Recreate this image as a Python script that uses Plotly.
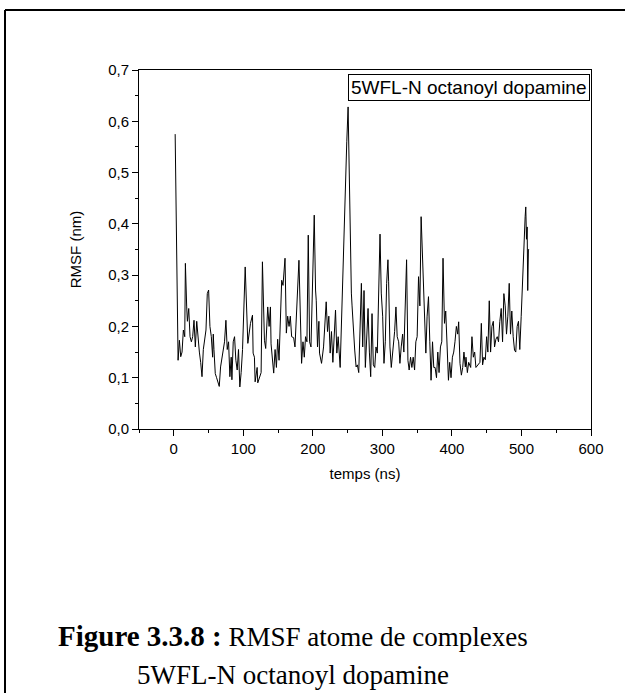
import plotly.graph_objects as go

# Data (time in ns, RMSF in nm)
time_ns = [
    2, 6.2, 8.1, 10, 11.9, 13.8, 15.8, 16.7, 18.6, 19.6, 21.5, 23.4, 25.3, 27.2, 29.1, 31, 33, 34.8,
    36.8, 38.7, 40.6, 42.5, 44.4, 46.3, 48.2, 50.1, 52, 54, 55.9, 56.8, 57.8, 59.7, 61.6, 63.5,
    65.4, 67.3, 69.2, 71.1, 73, 75, 76.9, 78.8, 80.7, 82.6, 83.6, 85.5, 87.4, 89.3, 91.2, 93.1,
    95, 96.9, 98.9,
    102.7, 106.5, 110.3, 113.2, 114.1, 116, 117, 119.9, 120.8, 125.6, 127.5, 130.4, 132.2, 135.1,
    137.1, 139, 139.9, 141.8, 143.7, 145.7, 147.6, 149.4, 151.4, 155.2, 157.1, 160, 161.9, 163.8,
    165.8, 167.6, 169.5, 172.4, 174.3, 180, 182, 183.8, 185.8, 187.7, 189.5, 191.5, 193.4, 195.3,
    197.3, 200.1, 202,
    203.9, 204.9, 206.7, 208.7, 209.6, 212.5, 215.4, 217.3, 219.2, 221.1, 223, 224.9, 226.8,
    228.8, 230.7, 232.6, 234.5, 236.4, 239.3, 243.1, 245, 246, 247.9, 248.8, 250.7, 251.7, 253.6,
    255.4, 256.4, 258.3, 260.2, 262.2, 264, 266, 267.9, 269.8, 271.7, 273.6, 275.5, 277.5, 279.4,
    281.3, 283.2, 285.1, 287, 289, 290.8, 292.7, 296.6, 298.4, 300.4, 302.3,
    304.2, 306.1, 308, 309, 310.9, 312.8, 314.7, 317.6, 319.5, 321.3, 323.4, 325.2, 327.1, 329.1,
    330.9, 332.8, 334.8, 336.7, 338.5, 340.5, 342.4, 344.3, 346.3, 348.1, 350, 352, 353.9, 355.7,
    357.7, 358.6, 360.6, 362.5, 364.3, 366.3, 368.2, 370, 372.1, 373.9, 375.8, 377.8, 379.7,
    381.5, 383.5, 385.4, 387.2, 389.3, 391.1, 393, 395, 396.8, 398.7, 400.7, 402.6, 404.4, 406.4,
    408.3,
    409.7, 411.6, 413.6, 415.5, 417.3, 419.3, 420.2, 422.2, 424.1, 427, 428.8, 430.8, 432.7,
    434.5, 437.4, 440.3, 442.3, 444.1, 446, 448, 449.9, 451.7, 453.7, 455.6, 457.5, 459.5, 461.3,
    463.2, 465.2, 467, 468.9, 470.9, 472.8, 474.7, 476.6, 478.5, 480.4, 482.4, 484.2, 486.1,
    488.1, 490, 491.8, 493.8, 495.7, 497.6, 499.6, 501.4, 503.3, 505.3, 506.2, 507.2, 508.2,
    509, 510, 511,
]
rmsf_nm = [
    0.575, 0.134, 0.173, 0.141, 0.15, 0.193, 0.18, 0.323, 0.238, 0.21, 0.235, 0.18, 0.17, 0.18,
    0.212, 0.16, 0.21, 0.175, 0.15, 0.13, 0.102, 0.155, 0.17, 0.193, 0.264, 0.271, 0.2, 0.18,
    0.14, 0.185, 0.155, 0.108, 0.1, 0.09, 0.083, 0.121, 0.14, 0.155, 0.17, 0.212, 0.155, 0.17,
    0.102, 0.14, 0.096, 0.17, 0.18, 0.134, 0.115, 0.155, 0.082, 0.11, 0.155,
    0.316, 0.167, 0.206, 0.222, 0.148, 0.14, 0.092, 0.12, 0.09, 0.11, 0.326, 0.173, 0.157, 0.238,
    0.2, 0.238, 0.166, 0.134, 0.109, 0.155, 0.12, 0.175, 0.134, 0.29, 0.28, 0.333, 0.187, 0.22,
    0.2, 0.22, 0.18, 0.178, 0.16, 0.329, 0.19, 0.128, 0.17, 0.14, 0.18, 0.17, 0.378, 0.17, 0.16,
    0.316, 0.417,
    0.271, 0.25, 0.16, 0.21, 0.148, 0.128, 0.16, 0.2, 0.248, 0.19, 0.22, 0.148, 0.19, 0.13, 0.19,
    0.232, 0.148, 0.18, 0.12, 0.31, 0.368, 0.446, 0.537, 0.56, 0.628, 0.53, 0.38, 0.265, 0.24,
    0.19, 0.154, 0.121, 0.125, 0.11, 0.19, 0.284, 0.16, 0.27, 0.12, 0.19, 0.235, 0.15, 0.102,
    0.225, 0.125, 0.12, 0.16, 0.148, 0.38, 0.265, 0.22, 0.128,
    0.17, 0.284, 0.33, 0.287, 0.16, 0.12, 0.15, 0.19, 0.238, 0.18, 0.17, 0.128, 0.16, 0.185,
    0.15, 0.22, 0.33, 0.134, 0.115, 0.14, 0.12, 0.14, 0.115, 0.17, 0.18, 0.297, 0.24, 0.414,
    0.33, 0.33, 0.24, 0.148, 0.22, 0.258, 0.17, 0.095, 0.17, 0.12, 0.12, 0.1, 0.15, 0.11, 0.16,
    0.17, 0.333, 0.206, 0.23, 0.14, 0.095, 0.13, 0.1, 0.14, 0.15, 0.17, 0.2, 0.185,
    0.209, 0.128, 0.105, 0.12, 0.15, 0.121, 0.14, 0.11, 0.13, 0.12, 0.18, 0.14, 0.15, 0.12,
    0.125, 0.13, 0.206, 0.125, 0.14, 0.135, 0.18, 0.15, 0.25, 0.15, 0.2, 0.21, 0.16, 0.175,
    0.18, 0.17, 0.21, 0.235, 0.17, 0.264, 0.24, 0.185, 0.22, 0.284, 0.185, 0.23, 0.18, 0.154,
    0.15, 0.2, 0.21, 0.155, 0.219, 0.29, 0.355, 0.414, 0.433, 0.37, 0.394, 0.27, 0.35, 0.35,
]

series_label = "5WFL-N octanoyl dopamine"
x_title = "temps (ns)"
y_title = "RMSF (nm)"
caption_bold = "Figure 3.3.8 :"
caption_rest = " RMSF atome de complexes"
caption_line2 = "5WFL-N octanoyl dopamine"

W, H = 625, 693
L, R, T, B = 139, 34, 70, 264
pw, ph = W - L - R, H - T - B

def px_x(p):
    return (p - L) / pw

def px_y(p):
    return (H - B - p) / ph

fig = go.Figure()
fig.add_trace(go.Scatter(x=time_ns, y=rmsf_nm, mode="lines",
                         line=dict(color="black", width=1), showlegend=False))

axis_font = dict(family="Liberation Sans, Arial", size=15, color="black")
fig.update_layout(
    width=W, height=H,
    margin=dict(l=L, r=R, t=T, b=B, pad=0),
    paper_bgcolor="white", plot_bgcolor="white",
    separators=", ",
    showlegend=False,
    xaxis=dict(range=[-50, 600], tick0=0, dtick=100, ticks="outside", ticklen=6,
               tickwidth=1, tickcolor="black", showline=True, linecolor="black",
               linewidth=1, mirror=True, showgrid=False, zeroline=False,
               tickfont=axis_font,
               minor=dict(dtick=50, tick0=0, ticks="outside", ticklen=3, tickcolor="black"),
               title=dict(text=x_title, font=axis_font, standoff=12)),
    yaxis=dict(range=[0, 0.7], tick0=0, dtick=0.1, tickformat=".1f", ticks="outside",
               ticklen=6, tickwidth=1, tickcolor="black", showline=True,
               linecolor="black", linewidth=1, mirror=True, showgrid=False,
               zeroline=False, tickfont=axis_font,
               minor=dict(dtick=0.05, tick0=0, ticks="outside", ticklen=3, tickcolor="black"),
               title=dict(text=y_title, font=axis_font, standoff=22)),
)

# Legend-like text box
fig.add_annotation(x=px_x(590), y=px_y(74), xref="paper", yref="paper",
                   xanchor="right", yanchor="top", showarrow=False,
                   text=series_label, bordercolor="black", borderwidth=1, borderpad=2,
                   bgcolor="white",
                   font=dict(family="Liberation Sans, Arial", size=19, color="black"))

# Caption
cap_font = dict(family="Liberation Serif, Times New Roman", size=27, color="black")
fig.add_annotation(x=px_x(293), y=px_y(636), xref="paper", yref="paper",
                   xanchor="center", yanchor="middle", showarrow=False,
                   text="<span style='font-size:29px'><b>" + caption_bold + "</b></span>"
                        + caption_rest, font=cap_font)
fig.add_annotation(x=px_x(293), y=px_y(675), xref="paper", yref="paper",
                   xanchor="center", yanchor="middle", showarrow=False,
                   text=caption_line2, font=cap_font)

# Page frame (top and left border lines)
fig.add_shape(type="line", xref="paper", yref="paper",
              x0=px_x(5), x1=px_x(625), y0=px_y(10), y1=px_y(10),
              line=dict(color="black", width=2))
fig.add_shape(type="line", xref="paper", yref="paper",
              x0=px_x(5), x1=px_x(5), y0=px_y(10), y1=px_y(693),
              line=dict(color="black", width=2))

fig.write_html("out.html")
